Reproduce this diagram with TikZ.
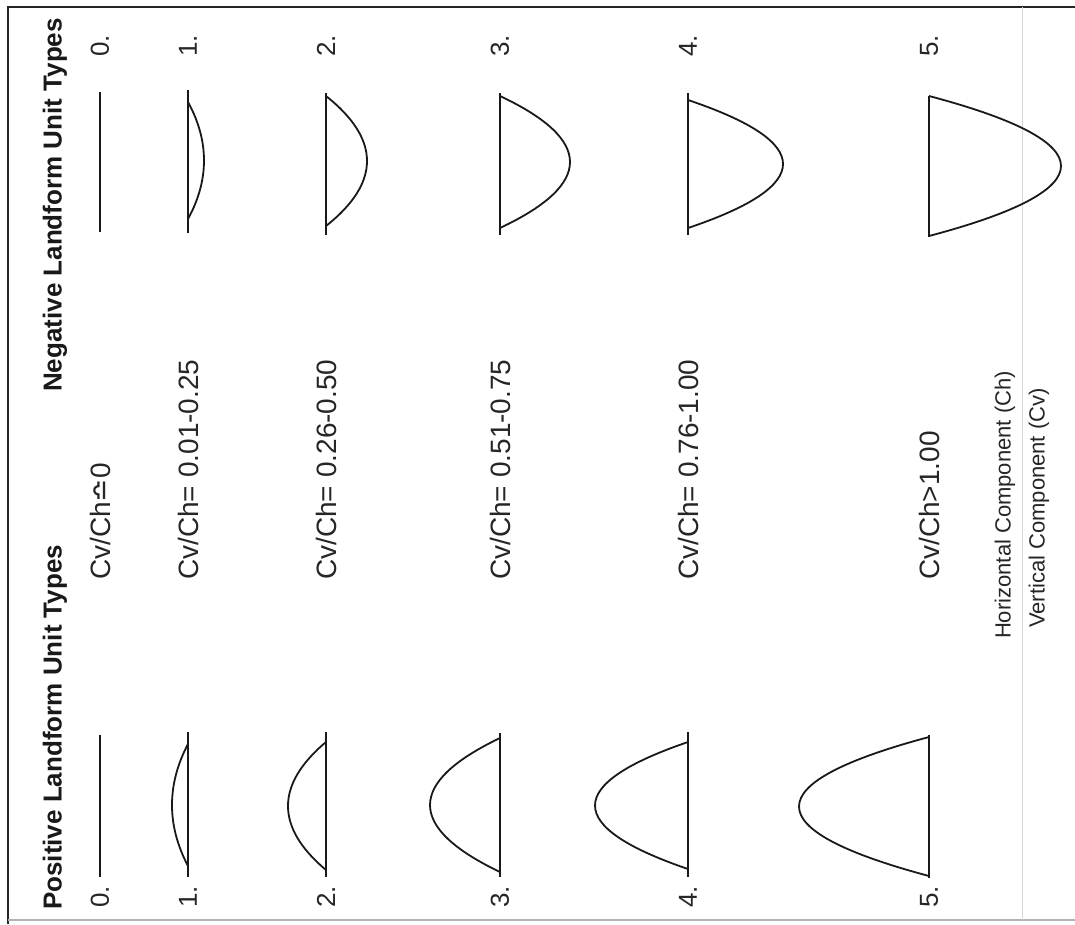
\documentclass[tikz,border=0pt]{standalone}
\usepackage{fontspec}
\setmainfont{Liberation Sans}
\newfontfamily\symfont{DejaVu Sans}
\newcommand\lfprofile[6]{% #1 x of base line, #2 signed height, #3 #4 base ends, #5 #6 arc ends
  \pgfmathsetmacro\lfcx{#1+4/3*(#2)}%
  \pgfmathsetmacro\lfym{(#5+#6)/2}%
  \pgfmathsetmacro\lfya{#5+2/3*(\lfym-#5)}%
  \pgfmathsetmacro\lfyb{#6+2/3*(\lfym-#6)}%
  \draw[profile] (#1,#3) -- (#1,#4);
  \draw[profile] (#1,#5) .. controls (\lfcx,\lfya) and (\lfcx,\lfyb) .. (#1,#6);
}
\begin{document}
\begin{tikzpicture}[x=1pt,y=-1pt,
  frameline/.style={line width=2pt, draw=black!85},
  profile/.style={line width=1.8pt, draw=black!90, line join=round},
  numlbl/.style={rotate=90, font=\fontsize{26}{30}\selectfont, inner sep=0pt, text=black!85},
  ratio/.style={rotate=90, anchor=west, font=\fontsize{28}{32}\selectfont, inner sep=0pt, text=black!85},
  head/.style={rotate=90, font=\bfseries\fontsize{26}{30}\selectfont, inner sep=0pt, text=black!90},
  comp/.style={rotate=90, font=\fontsize{22}{26}\selectfont, inner sep=0pt, text=black!85}]
\useasboundingbox (0,0) rectangle (1075,924);
\fill[white] (0,0) rectangle (1075,924);
% frame
\draw[frameline] (8,924) -- (8,7) -- (1075,7);
\draw[black!30, line width=1.2pt] (8,920) -- (1075,920);
\draw[black!15, line width=0.8pt] (1022,7) -- (1022,920);
% headers
\node[head, anchor=west] (poshead) at (55,910) {Positive Landform Unit Types};
\node[head, anchor=east] (neghead) at (55,18) {Negative Landform Unit Types};
% ratio labels
\node[ratio] (r0) at (100,580) {Cv/Ch{\symfont ≏}0};
\node[ratio] (r1) at (188,580) {Cv/Ch= 0.01-0.25};
\node[ratio] (r2) at (326,580) {Cv/Ch= 0.26-0.50};
\node[ratio] (r3) at (500,580) {Cv/Ch= 0.51-0.75};
\node[ratio] (r4) at (688,580) {Cv/Ch= 0.76-1.00};
\node[ratio] (r5) at (929,580) {Cv/Ch>1.00};
% component legend
\node[comp] (hc) at (1005,505) {Horizontal Component (Ch)};
\node[comp] (vc) at (1039,508) {Vertical Component (Cv)};
% number labels
\foreach \n/\x in {0/100,1/188,2/326,3/500,4/688,5/929}{
  \node[numlbl] (pos\n) at (\x,897) {\n.};
  \node[numlbl] (neg\n) at (\x,46) {\n.};
}
% type 0
\draw[profile] (100,92) -- (100,232);
\draw[profile] (100,735) -- (100,877);
% negative profiles (bulge to the right)
\lfprofile{188}{16}{90}{233}{102}{219}
\lfprofile{326}{41}{93}{235}{96}{226}
\lfprofile{500}{70}{93}{235}{96}{228}
\lfprofile{688}{95}{93}{235}{100}{228}
\lfprofile{929}{132}{96}{237}{96}{236}
% positive profiles (bulge to the left)
\lfprofile{188}{-16}{732}{877}{744}{866}
\lfprofile{326}{-38}{732}{877}{742}{870}
\lfprofile{500}{-70}{733}{877}{738}{872}
\lfprofile{688}{-93}{732}{877}{742}{869}
\lfprofile{929}{-130}{735}{878}{737}{876}
\end{tikzpicture}
\end{document}
